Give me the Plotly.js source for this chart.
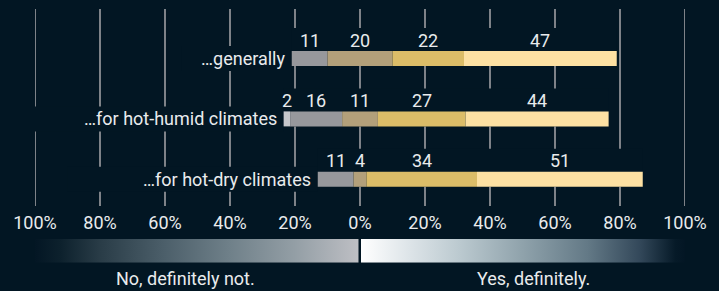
<!DOCTYPE html>
<html>
<head>
<meta charset="utf-8">
<script src="https://cdn.plot.ly/plotly-3.0.1.min.js"></script>
<style>
html,body{margin:0;padding:0;background:#021623;}
#chart{width:719px;height:291px;}
</style>
</head>
<body>
<div id="chart"></div>
<script>
// ---- data ----
const rows = ['\u2026generally', '\u2026for hot-humid climates', '\u2026for hot-dry climates'];
const defNot = [0, 2, 0];
const probNot = [11, 16, 11];
const neutral = [20, 11, 4];
const probYes = [22, 27, 34];
const defYes = [47, 44, 51];
const tickVals = [-100, -80, -60, -40, -20, 0, 20, 40, 60, 80, 100];
const tickText = ['100%', '80%', '60%', '40%', '20%', '0%', '20%', '40%', '60%', '80%', '100%'];
const scaleLeft = 'No, definitely not.';
const scaleRight = 'Yes, definitely.';

// ---- styles ----
const BG = '#021623';
const GRID = '#7e8288';
const TXT = '#e9ebed';
const FONT = 'Roboto, "Noto Sans", sans-serif';
const FS = 18;
const segColors = ['#c6c7cb', '#97989c', '#b3a07a', '#dcbd68', '#fde1a3'];
const series = [defNot, probNot, neutral, probYes, defYes];

const PX = 60.4; // px per row unit
const rowIdx = rows.map((_, i) => i);
const starts = rowIdx.map(i => -(defNot[i] + probNot[i] + neutral[i] / 2));
const ends = rowIdx.map(i => starts[i] + defNot[i] + probNot[i] + neutral[i] + probYes[i] + defYes[i]);

const traces = [];
const annotations = [];
const bases = series.map(() => []);
rowIdx.forEach(i => {
  let b = starts[i];
  series.forEach((s, k) => { bases[k][i] = b; b += s[i]; });
});
series.forEach((s, k) => {
  traces.push({
    type: 'bar', orientation: 'h',
    y: rowIdx, x: s, base: bases[k],
    width: 15 / PX,
    marker: {color: segColors[k], line: {width: 0}},
    hoverinfo: 'skip', showlegend: false
  });
  rowIdx.forEach(i => {
    if (s[i] > 0) {
      annotations.push({
        x: bases[k][i] + s[i] / 2, y: i, xref: 'x', yref: 'y',
        text: String(s[i]), showarrow: false, yshift: 18.5,
        xanchor: 'center', yanchor: 'middle',
        font: {family: FONT, size: FS, color: TXT}
      });
    }
  });
});
rowIdx.forEach(i => {
  annotations.push({
    x: starts[i], y: i, xref: 'x', yref: 'y', text: rows[i], showarrow: false,
    xanchor: 'right', yanchor: 'middle', xshift: -5,
    font: {family: FONT, size: FS, color: TXT}
  });
});
const plotTop = 9, plotBot = 206, plotH = plotBot - plotTop;
const py = p => (plotBot - p) / plotH;
annotations.push({x: -53.7, y: py(278.5), xref: 'x', yref: 'paper', text: scaleLeft, showarrow: false,
  xanchor: 'center', yanchor: 'middle', font: {family: FONT, size: FS, color: TXT}});
annotations.push({x: 53.5, y: py(278.5), xref: 'x', yref: 'paper', text: scaleRight, showarrow: false,
  xanchor: 'center', yanchor: 'middle', font: {family: FONT, size: FS, color: TXT}});

// ---- shapes: gridlines then masks ----
const shapes = [];
tickVals.forEach(v => shapes.push({type: 'line', layer: 'below', xref: 'x', yref: 'paper',
  x0: v, x1: v, y0: 0, y1: 1, line: {color: GRID, width: 2}}));
const labelMaskLeft = [-55, -103, -90];
rowIdx.forEach(i => {
  shapes.push({type: 'rect', layer: 'below', xref: 'x', yref: 'y',
    x0: starts[i], x1: ends[i], y0: i - 30.5 / PX, y1: i + 7.5 / PX,
    fillcolor: BG, line: {width: 0}});
  shapes.push({type: 'rect', layer: 'below', xref: 'x', yref: 'y',
    x0: labelMaskLeft[i], x1: starts[i], y0: i - 12.5 / PX, y1: i + 12.5 / PX,
    fillcolor: BG, line: {width: 0}});
});

// ---- gradient legend ----
function gradSvg(stops) {
  const st = stops.map(s => `<stop offset="${s[0]}" stop-color="${s[1]}"/>`).join('');
  const svg = `<svg xmlns="http://www.w3.org/2000/svg" width="400" height="30" preserveAspectRatio="none"><defs><linearGradient id="g" x1="0" y1="0" x2="1" y2="0">${st}</linearGradient></defs><rect x="0" y="0" width="400" height="30" fill="url(#g)"/></svg>`;
  return 'data:image/svg+xml;charset=utf-8,' + encodeURIComponent(svg);
}
const leftStops = [[0, '#031624'], [0.08, '#0d212d'], [0.2, '#293c47'], [0.4, '#4c5f6a'], [0.6, '#6f8089'], [0.8, '#939ea5'], [1, '#bebfc4']];
const rightStops = [[0, '#ffffff'], [0.15, '#dde4e8'], [0.3, '#bccad0'], [0.5, '#8fa2ab'], [0.7, '#637986'], [0.86, '#33485a'], [0.97, '#061a28'], [1, '#031624']];
const images = [
  {source: gradSvg(leftStops), xref: 'x', yref: 'paper', x: -100, sizex: 99.6,
   y: py(239), sizey: 23.7 / plotH, xanchor: 'left', yanchor: 'top', sizing: 'stretch', layer: 'above'},
  {source: gradSvg(rightStops), xref: 'x', yref: 'paper', x: 0.3, sizex: 99.7,
   y: py(239), sizey: 23.7 / plotH, xanchor: 'left', yanchor: 'top', sizing: 'stretch', layer: 'above'}
];

const layout = {
  width: 719, height: 291,
  margin: {l: 35, r: 34, t: plotTop, b: 291 - plotBot, pad: 0},
  paper_bgcolor: BG, plot_bgcolor: BG,
  barmode: 'overlay',
  showlegend: false,
  xaxis: {range: [-100, 100], tickvals: tickVals, ticktext: tickText, showgrid: false, zeroline: false,
    showline: false, ticks: '', ticklabelstandoff: 4, tickfont: {family: FONT, size: FS, color: TXT}, fixedrange: true},
  yaxis: {range: [-0.8195 + plotH / PX, -0.8195], showgrid: false, zeroline: false, showline: false,
    showticklabels: false, ticks: '', fixedrange: true},
  shapes: shapes, annotations: annotations, images: images,
  font: {family: FONT, color: TXT}
};
Plotly.newPlot('chart', traces, layout, {staticPlot: true, displayModeBar: false});
</script>
</body>
</html>
